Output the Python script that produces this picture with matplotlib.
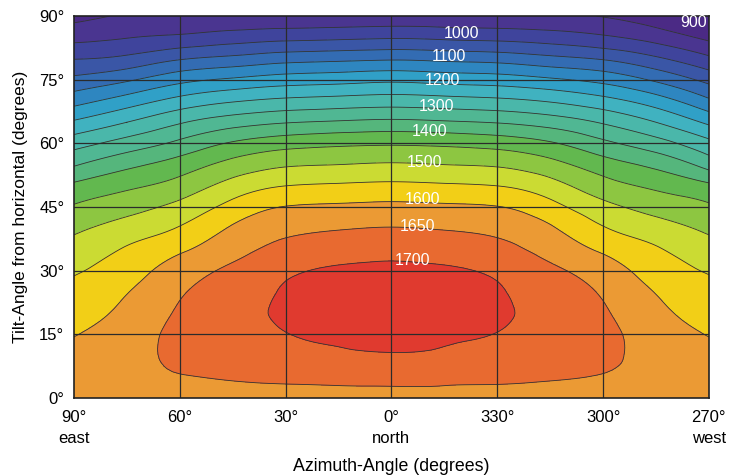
import matplotlib
matplotlib.use("Agg")
import matplotlib.pyplot as plt
import matplotlib.tri as mtri
import numpy as np

plt.rcParams["font.family"] = ["Liberation Sans", "DejaVu Sans"]

# azimuth as offset from north in degrees: -90 = east, 0 = north, +90 = west
azimuth = [-90, -75, -60, -45, -30, -15, 0, 15, 30, 45, 60, 75, 90]
tilt = [0, 5, 10, 15, 20, 25, 30, 35, 40, 45, 50, 55, 60, 65, 70, 75, 80, 85, 90]

# irradiation, one row per tilt, columns as in azimuth
irradiation = [
    [1635, 1635, 1635, 1635, 1635, 1635, 1635, 1635, 1635, 1635, 1635, 1635, 1635],
    [1628, 1639, 1648, 1654, 1659, 1663, 1665, 1663, 1659, 1654, 1648, 1639, 1628],
    [1615, 1633, 1660, 1673, 1684, 1693, 1697, 1693, 1684, 1673, 1660, 1633, 1615],
    [1598, 1625, 1663, 1683, 1699, 1706, 1710, 1706, 1699, 1683, 1663, 1625, 1598],
    [1582, 1612, 1656, 1685, 1706, 1714, 1719, 1714, 1706, 1685, 1656, 1612, 1583],
    [1565, 1598, 1645, 1676, 1704, 1713, 1717, 1713, 1704, 1676, 1645, 1598, 1567],
    [1545, 1577, 1625, 1660, 1692, 1705, 1708, 1705, 1692, 1660, 1625, 1577, 1546],
    [1520, 1555, 1592, 1633, 1665, 1680, 1686, 1680, 1665, 1633, 1592, 1555, 1521],
    [1490, 1521, 1554, 1606, 1638, 1647, 1652, 1647, 1638, 1606, 1554, 1521, 1490],
    [1455, 1483, 1515, 1567, 1602, 1608, 1612, 1608, 1602, 1567, 1515, 1483, 1457],
    [1410, 1440, 1470, 1520, 1550, 1557, 1561, 1557, 1550, 1520, 1470, 1440, 1410],
    [1345, 1387, 1423, 1467, 1494, 1500, 1505, 1500, 1494, 1467, 1423, 1387, 1330],
    [1280, 1321, 1362, 1406, 1430, 1440, 1444, 1440, 1430, 1406, 1362, 1321, 1265],
    [1207, 1250, 1295, 1328, 1347, 1356, 1362, 1356, 1347, 1328, 1295, 1250, 1190],
    [1132, 1174, 1218, 1246, 1262, 1270, 1276, 1270, 1262, 1246, 1218, 1175, 1110],
    [1063, 1093, 1135, 1158, 1175, 1182, 1190, 1182, 1175, 1158, 1135, 1092, 1035],
    [998, 1012, 1045, 1063, 1080, 1087, 1093, 1087, 1080, 1063, 1045, 1008, 960],
    [935, 948, 960, 975, 985, 990, 995, 990, 985, 975, 958, 930, 888],
    [885, 905, 902, 905, 908, 911, 912, 911, 908, 904, 898, 870, 820],
]

line_levels = [900, 950, 1000, 1050, 1100, 1150, 1200, 1250, 1300, 1350,
               1400, 1450, 1500, 1550, 1600, 1650, 1700]
band_colors = [
    "#4b2a85", "#4a3590", "#3f449c", "#3a56a6", "#336cb3", "#2e86c0",
    "#30a0c7", "#40b2c0", "#4ab7aa", "#50b793", "#55b67c", "#62b84f",
    "#8dc641", "#cbdb33", "#f2cf17", "#eb9a34", "#e86a30", "#e03a2f",
]

# contour labels: level, azimuth offset, tilt
label_levels = [900, 1000, 1100, 1200, 1300, 1400, 1500, 1600, 1650, 1700]
label_az = [89.5, 19.8, 16.4, 14.4, 12.7, 10.8, 9.3, 8.8, 7.4, 5.9]
label_tilt = [88.6, 86.0, 80.6, 74.9, 68.8, 62.7, 55.4, 46.9, 40.5, 32.5]

xtick_pos = [-90, -60, -30, 0, 30, 60, 90]
xtick_labels = ["90°\neast", "60°", "30°", "0°\nnorth", "330°", "300°", "270°\nwest"]
ytick_pos = [0, 15, 30, 45, 60, 75, 90]

X, Y = np.meshgrid(azimuth, tilt)
Z = np.array(irradiation, dtype=float)

# smooth contours: let matplotlib refine the triangulated table
triang = mtri.Triangulation(X.ravel(), Y.ravel())
interp = mtri.CubicTriInterpolator(triang, Z.ravel(), kind="min_E")
refiner = mtri.UniformTriRefiner(triang)
tri_fine, z_fine = refiner.refine_field(Z.ravel(), triinterpolator=interp, subdiv=3)

fig = plt.figure(figsize=(7.33, 4.76), dpi=100)
ax = fig.add_axes([0.101, 0.164, 0.866, 0.802])

fill_levels = [600] + line_levels + [1900]
ax.tricontourf(tri_fine, z_fine, levels=fill_levels, colors=band_colors)
ax.tricontour(tri_fine, z_fine, levels=line_levels, colors="#333333", linewidths=0.6)

for x in xtick_pos[1:-1]:
    ax.axvline(x, color="#2b2b2b", lw=0.9)
for y in ytick_pos[1:-1]:
    ax.axhline(y, color="#2b2b2b", lw=0.9)

for lev, x, y in zip(label_levels, label_az, label_tilt):
    ha = "right" if lev == 900 else "center"
    ax.text(x, y, str(lev), color="white", fontsize=11.5, ha=ha, va="center")

ax.set_xlim(-90, 90)
ax.set_ylim(0, 90)
ax.set_xticks(xtick_pos)
ax.set_xticklabels(xtick_labels, fontsize=12, linespacing=1.45)
ax.set_yticks(ytick_pos)
ax.set_yticklabels([f"{v}°" for v in ytick_pos], fontsize=12)
ax.tick_params(axis="x", length=0, pad=9)
ax.tick_params(axis="y", length=0, pad=7)
for s in ax.spines.values():
    s.set_color("#222222")
    s.set_linewidth(1.2)

ax.set_xlabel("Azimuth-Angle (degrees)", fontsize=12.8, labelpad=9)
ax.set_ylabel("Tilt-Angle from horizontal (degrees)", fontsize=12.5, labelpad=8)

fig.savefig("out.png", dpi=100)
